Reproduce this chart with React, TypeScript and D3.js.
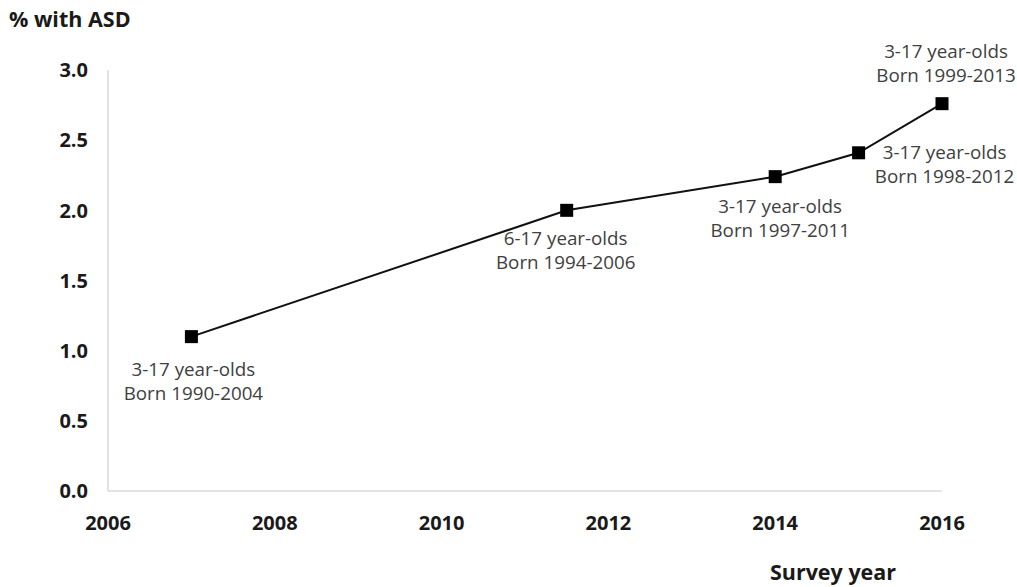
import React from "react";
import * as d3 from "d3";

const years = [2007, 2011.5, 2014, 2015, 2016];
const values = [1.1, 2.0, 2.24, 2.41, 2.76];
const labelLine1 = ["3-17 year-olds", "6-17 year-olds", "3-17 year-olds", "3-17 year-olds", "3-17 year-olds"];
const labelLine2 = ["Born 1990-2004", "Born 1994-2006", "Born 1997-2011", "Born 1998-2012", "Born 1999-2013"];
const xTicks = [2006, 2008, 2010, 2012, 2014, 2016];
const yTicks = [0, 0.5, 1.0, 1.5, 2.0, 2.5, 3.0];

// label offsets (px) relative to each point: dx, dy of first line baseline
const labelOffsets = [
  [2, 39],
  [-1, 35],
  [5, 36],
  [86, 6],
  [4, -46],
];

export default function App() {
  const W = 1017, H = 587;
  const x = d3.scaleLinear().domain([2006, 2016]).range([108, 942]);
  const y = d3.scaleLinear().domain([0, 3]).range([491, 70]);
  const line = d3.line<number>().x((_, i) => x(years[i])).y((d) => y(d));
  const font = "'Open Sans', sans-serif";
  return (
    <svg width={W} height={H} style={{ position: "absolute", left: 0, top: 0, background: "#fff" }}>
      <line x1={x(2006)} x2={x(2006)} y1={y(3)} y2={y(0)} stroke="#c8c8c8" strokeWidth={1} />
      <line x1={x(2006)} x2={x(2016)} y1={y(0)} y2={y(0)} stroke="#c8c8c8" strokeWidth={1} />
      {yTicks.map((t) => (
        <text key={t} x={88} y={y(t)} dy="0.36em" textAnchor="end" fontFamily={font} fontWeight="bold" fontSize={20} fill="#1a1a1a">
          {t.toFixed(1)}
        </text>
      ))}
      {xTicks.map((t) => (
        <text key={t} x={x(t)} y={523} dy="0.36em" textAnchor="middle" fontFamily={font} fontWeight="bold" fontSize={20} fill="#1a1a1a">
          {t}
        </text>
      ))}
      <text x={9} y={27} fontFamily={font} fontWeight="bold" fontSize={21.5} fill="#1a1a1a">% with ASD</text>
      <text x={833} y={580} textAnchor="middle" fontFamily={font} fontWeight="bold" fontSize={21.5} fill="#1a1a1a">Survey year</text>
      <path d={line(values) || ""} fill="none" stroke="#111" strokeWidth={2} />
      {values.map((v, i) => (
        <rect key={i} x={x(years[i]) - 6.5} y={y(v) - 6.5} width={13} height={13} fill="#000" />
      ))}
      {values.map((v, i) => {
        const cx = x(years[i]) + labelOffsets[i][0];
        const cy = y(v) + labelOffsets[i][1];
        return (
          <text key={i} textAnchor="middle" fontFamily={font} fontSize={18.8} fill="#404040">
            <tspan x={cx} y={cy}>{labelLine1[i]}</tspan>
            <tspan x={cx} y={cy + 24}>{labelLine2[i]}</tspan>
          </text>
        );
      })}
    </svg>
  );
}
